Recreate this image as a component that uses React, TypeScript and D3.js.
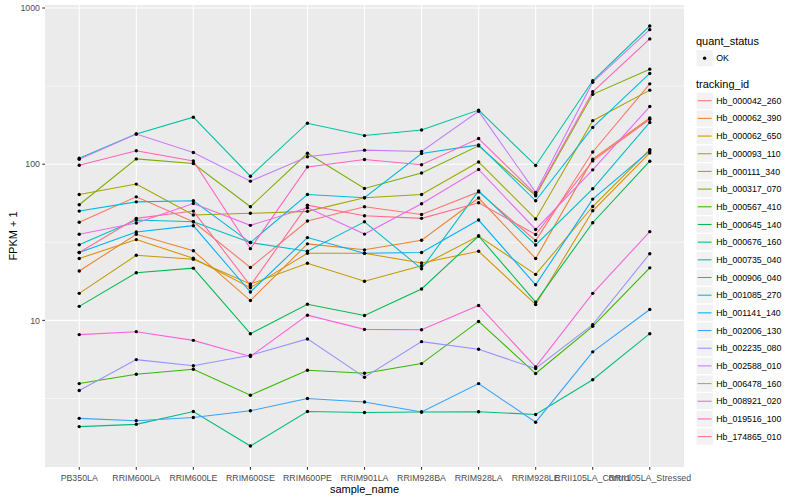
import React from "react";
import * as d3 from "d3";

// ---- data (FPKM + 1) ----
const samples = [
  "PB350LA", "RRIM600LA", "RRIM600LE", "RRIM600SE", "RRIM600PE", "RRIM901LA",
  "RRIM928BA", "RRIM928LA", "RRIM928LE", "RRII105LA_Control", "RRII105LA_Stressed",
];

const trackingIds = [
  "Hb_000042_260", "Hb_000062_390", "Hb_000062_650", "Hb_000093_110", "Hb_000111_340",
  "Hb_000317_070", "Hb_000567_410", "Hb_000645_140", "Hb_000676_160", "Hb_000735_040",
  "Hb_000906_040", "Hb_001085_270", "Hb_001141_140", "Hb_002006_130", "Hb_002235_080",
  "Hb_002588_010", "Hb_006478_160", "Hb_008921_020", "Hb_019516_100", "Hb_174865_010",
];

const hb_000042_260 = [42.5, 61.8, 42.8, 21.8, 43.3, 53.4, 47.6, 66.5, 32.4, 119.8, 327];
const hb_000062_390 = [20.7, 35.6, 27.9, 13.4, 30.9, 28.3, 32.6, 60.7, 24.9, 107.6, 197.5];
const hb_000062_650 = [24.9, 32.9, 25.0, 16.2, 26.9, 26.9, 23.3, 27.7, 12.65, 50.3, 118];
const hb_000093_110 = [14.9, 26.1, 24.6, 17.1, 23.2, 17.8, 22.4, 34.7, 19.7, 53.6, 124];
const hb_000111_340 = [64, 74.6, 47.3, 48.5, 49.9, 61, 64, 103.4, 44.6, 190, 298];
const hb_000317_070 = [55, 108.1, 101, 53.4, 117.5, 70, 87.9, 131, 62.8, 280, 406];
const hb_000567_410 = [3.94, 4.52, 4.87, 3.32, 4.8, 4.59, 5.29, 9.85, 4.57, 9.16, 21.7];
const hb_000645_140 = [12.3, 20.2, 21.6, 8.22, 12.7, 10.76, 15.9, 34.7, 13.1, 42.2, 104.5];
const hb_000676_160 = [2.09, 2.16, 2.61, 1.57, 2.61, 2.57, 2.59, 2.6, 2.5, 4.17, 8.22];
const hb_000735_040 = [109.2, 156, 200, 83.8, 183, 152.5, 165.5, 222, 98.1, 342, 767];
const hb_000906_040 = [30.5, 43.9, 42.8, 31.5, 27.7, 42.8, 21.4, 67.5, 30.4, 69.6, 185];
const hb_001085_270 = [50.1, 57.4, 58.3, 31.5, 64, 61, 117, 133, 58.3, 172, 381];
const hb_001141_140 = [27.2, 36.8, 40.4, 15.2, 33.9, 26.9, 27.2, 43.9, 16.9, 59.8, 121.6];
const hb_002006_130 = [2.36, 2.28, 2.39, 2.64, 3.16, 3.0, 2.59, 3.94, 2.23, 6.29, 11.75];
const hb_002235_080 = [3.56, 5.61, 5.12, 5.98, 7.61, 4.33, 7.31, 6.53, 4.92, 9.39, 26.7];
const hb_002588_010 = [107.6, 156, 118.8, 77.9, 111.6, 123, 120.5, 218, 66, 335, 727];
const hb_006478_160 = [35.6, 42, 56, 40.6, 52.6, 35.7, 55.8, 92.5, 38.2, 92, 234];
const hb_008921_020 = [8.11, 8.47, 7.45, 5.87, 10.8, 8.76, 8.72, 12.46, 5.04, 14.9, 37];
const hb_019516_100 = [98.5, 122, 105, 28.8, 96.1, 107.2, 99.3, 146, 64.3, 291, 634];
const hb_174865_010 = [27.2, 45, 50.1, 16.7, 54.7, 46.8, 45, 56.6, 35.5, 105, 194];

const seriesValues = [
  hb_000042_260, hb_000062_390, hb_000062_650, hb_000093_110, hb_000111_340,
  hb_000317_070, hb_000567_410, hb_000645_140, hb_000676_160, hb_000735_040,
  hb_000906_040, hb_001085_270, hb_001141_140, hb_002006_130, hb_002235_080,
  hb_002588_010, hb_006478_160, hb_008921_020, hb_019516_100, hb_174865_010,
];

const hueColors = [
  "#F8766D", "#EA8331", "#D89000", "#C09B00", "#A3A500", "#7CAE00", "#39B600",
  "#00BB4E", "#00BF7D", "#00C1A3", "#00BFC4", "#00BAE0", "#00B0F6", "#35A2FF",
  "#9590FF", "#C77CFF", "#E76BF3", "#FA62DB", "#FF62BC", "#FF6C91",
];

const yBreaks = [10, 100, 1000];
const yBreakLabels = ["10", "100", "1000"];

// ---- layout ----
const W = 800;
const H = 500;
const P = { left: 45, right: 684, top: 5, bottom: 467 };
const FONT = "'Liberation Sans', Arial, Helvetica, sans-serif";

export default function App() {
  const x = d3.scalePoint<string>().domain(samples).range([P.left, P.right]).padding(0.6);

  const all = seriesValues.flat();
  const lmin = Math.log10(d3.min(all) as number);
  const lmax = Math.log10(d3.max(all) as number);
  const pad = (lmax - lmin) * 0.05;
  const y = d3
    .scaleLog()
    .domain([Math.pow(10, lmin - pad), Math.pow(10, lmax + pad)])
    .range([P.bottom, P.top]);

  const minor = [0.5, 1.5, 2.5, 3.5].map((e) => Math.pow(10, e)).filter((v) => {
    const d = y.domain();
    return v > d[0] && v < d[1];
  });

  const line = d3
    .line<number>()
    .x((_, i) => x(samples[i]) as number)
    .y((v) => y(v));

  const legendX = 696;
  const keySize = 17.28;
  const keyStep = 17.68;
  const trackStart = 100.7;

  return (
    <svg
      width={W}
      height={H}
      style={{ position: "absolute", left: 0, top: 0, background: "#fff" }}
      fontFamily={FONT}
    >
      <rect x={0} y={0} width={W} height={H} fill="#fff" />
      {/* panel */}
      <rect x={P.left} y={P.top} width={P.right - P.left} height={P.bottom - P.top} fill="#EBEBEB" />
      {minor.map((v) => (
        <line key={"mn" + v} x1={P.left} x2={P.right} y1={y(v)} y2={y(v)} stroke="#fff" strokeWidth={0.55} />
      ))}
      {yBreaks.map((v) => (
        <line key={"mj" + v} x1={P.left} x2={P.right} y1={y(v)} y2={y(v)} stroke="#fff" strokeWidth={1.07} />
      ))}
      {samples.map((s) => (
        <line key={"vx" + s} x1={x(s)} x2={x(s)} y1={P.top} y2={P.bottom} stroke="#fff" strokeWidth={1.07} />
      ))}

      {/* lines */}
      <g fill="none" strokeWidth={1.07}>
        {seriesValues.map((vals, i) => (
          <path key={trackingIds[i]} d={line(vals) || ""} stroke={hueColors[i]} />
        ))}
      </g>
      {/* points */}
      <g fill="#000">
        {seriesValues.map((vals, i) =>
          vals.map((v, j) => (
            <circle key={trackingIds[i] + j} cx={x(samples[j])} cy={y(v)} r={1.7} />
          ))
        )}
      </g>

      {/* y axis */}
      {yBreaks.map((v, i) => (
        <g key={"yt" + v}>
          <line x1={P.left - 2.74} x2={P.left} y1={y(v)} y2={y(v)} stroke="#333" strokeWidth={1.07} />
          <text x={P.left - 5} y={y(v) + 3.1} textAnchor="end" fontSize={8.8} fill="#4D4D4D">
            {yBreakLabels[i]}
          </text>
        </g>
      ))}
      {/* x axis */}
      {samples.map((s) => (
        <g key={"xt" + s}>
          <line x1={x(s)} x2={x(s)} y1={P.bottom} y2={P.bottom + 2.74} stroke="#333" strokeWidth={1.07} />
          <text x={x(s)} y={P.bottom + 13.5} textAnchor="middle" fontSize={8.8} fill="#4D4D4D">
            {s}
          </text>
        </g>
      ))}
      <text x={(P.left + P.right) / 2} y={492.5} textAnchor="middle" fontSize={11} fill="#000">
        sample_name
      </text>
      <text
        transform={`translate(17,${(P.top + P.bottom) / 2}) rotate(-90)`}
        textAnchor="middle"
        fontSize={11}
        fill="#000"
      >
        FPKM + 1
      </text>

      {/* legend: quant_status */}
      <text x={legendX} y={44.5} fontSize={11} fill="#000">
        quant_status
      </text>
      <rect x={legendX} y={49.5} width={keySize} height={keySize} fill="#F2F2F2" stroke="#fff" />
      <circle cx={legendX + keySize / 2} cy={49.5 + keySize / 2} r={1.7} fill="#000" />
      <text x={legendX + keySize + 3} y={49.5 + keySize / 2 + 3.1} fontSize={8.8} fill="#000">
        OK
      </text>

      {/* legend: tracking_id */}
      <text x={legendX} y={88} fontSize={11} fill="#000">
        tracking_id
      </text>
      {trackingIds.map((id, i) => {
        const cy = trackStart + i * keyStep;
        return (
          <g key={"lg" + id}>
            <rect x={legendX} y={cy - keySize / 2} width={keySize} height={keySize} fill="#F2F2F2" stroke="#fff" />
            <line
              x1={legendX + 1.7}
              x2={legendX + keySize - 1.7}
              y1={cy}
              y2={cy}
              stroke={hueColors[i]}
              strokeWidth={1.07}
            />
            <text x={legendX + keySize + 3} y={cy + 3.1} fontSize={8.8} fill="#000">
              {id}
            </text>
          </g>
        );
      })}
    </svg>
  );
}
